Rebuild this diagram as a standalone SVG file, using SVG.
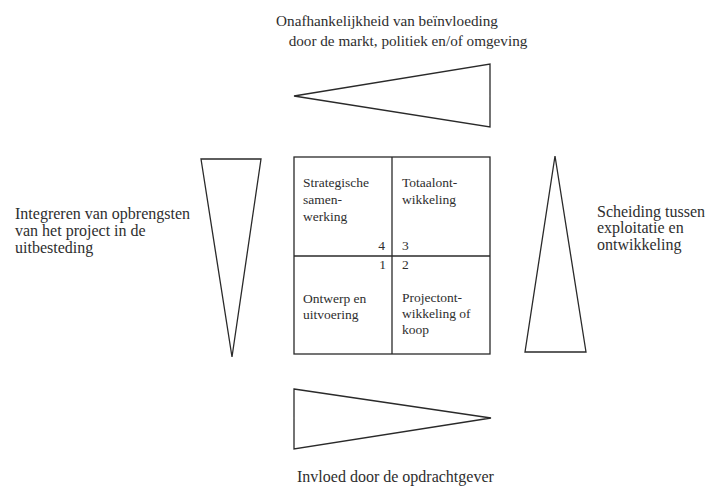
<svg xmlns="http://www.w3.org/2000/svg" width="718" height="489" viewBox="0 0 718 489" font-family="Liberation Serif, Times New Roman, serif">
  <style>
    .shape { fill: none; stroke: #2a2a2a; stroke-width: 1.3; stroke-linejoin: miter; }
    .lbl { font-family: 'Liberation Serif', serif; font-size: 16px; fill: #2e2e2e; }
    .head { font-family: 'Liberation Serif', serif; font-size: 15.2px; fill: #2e2e2e; }
    .cell { font-family: 'Liberation Serif', serif; font-size: 13.5px; fill: #2e2e2e; }
  </style>
  <rect width="718" height="489" fill="#ffffff"/>

  <!-- top wedge: independence from market, politics, environment -->
  <g id="top">
    <text class="head" x="387" y="26" text-anchor="middle">Onafhankelijkheid van beïnvloeding</text>
    <text class="head" x="408" y="46" text-anchor="middle">door de markt, politiek en/of omgeving</text>
    <polygon class="shape" points="294,96 490,64 490,127"/>
  </g>

  <!-- left wedge -->
  <g id="left">
    <text class="lbl" x="15" y="219">Integreren van opbrengsten</text>
    <text class="lbl" x="15" y="236">van het project in de</text>
    <text class="lbl" x="15" y="253">uitbesteding</text>
    <polygon class="shape" points="201,159 261,159 232,357"/>
  </g>

  <!-- right wedge -->
  <g id="right">
    <text class="lbl" x="597" y="217">Scheiding tussen</text>
    <text class="lbl" x="597" y="233">exploitatie en</text>
    <text class="lbl" x="597" y="250">ontwikkeling</text>
    <polygon class="shape" points="555,156 586,352 525,352"/>
  </g>

  <!-- bottom wedge -->
  <g id="bottom">
    <polygon class="shape" points="294,389 491,418 294,449"/>
    <text class="lbl" x="297" y="482">Invloed door de opdrachtgever</text>
  </g>

  <!-- central matrix of four quadrants -->
  <g id="matrix">
    <rect class="shape" x="294" y="157" width="196" height="197"/>
    <line class="shape" x1="392" y1="157" x2="392" y2="354"/>
    <line class="shape" x1="294" y1="256" x2="490" y2="256"/>
  </g>

  <g id="q4">
    <text class="cell" x="303" y="187">Strategische</text>
    <text class="cell" x="303" y="204">samen-</text>
    <text class="cell" x="303" y="221">werking</text>
    <text class="cell" x="385" y="250" text-anchor="end">4</text>
  </g>
  <g id="q3">
    <text class="cell" x="402" y="187">Totaalont-</text>
    <text class="cell" x="402" y="204">wikkeling</text>
    <text class="cell" x="402" y="250">3</text>
  </g>
  <g id="q1">
    <text class="cell" x="386" y="269" text-anchor="end">1</text>
    <text class="cell" x="303" y="303">Ontwerp en</text>
    <text class="cell" x="303" y="319">uitvoering</text>
  </g>
  <g id="q2">
    <text class="cell" x="402" y="269">2</text>
    <text class="cell" x="402" y="302">Projectont-</text>
    <text class="cell" x="402" y="318">wikkeling of</text>
    <text class="cell" x="402" y="334">koop</text>
  </g>
</svg>
